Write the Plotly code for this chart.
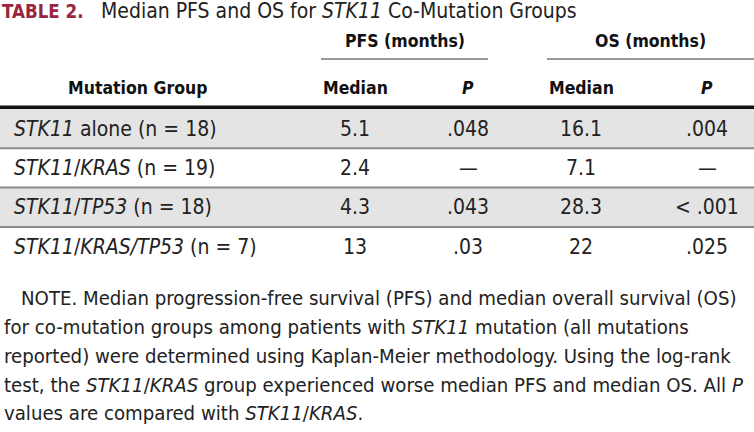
import plotly.graph_objects as go

# ---- data ----
groups = ["<i>STK11</i> alone (n = 18)",
          "<i>STK11</i>/<i>KRAS</i> (n = 19)",
          "<i>STK11</i>/<i>TP53</i> (n = 18)",
          "<i>STK11</i>/<i>KRAS/TP53</i> (n = 7)"]
pfs_median = ["5.1", "2.4", "4.3", "13"]
pfs_p = [".048", "\u2014", ".043", ".03"]
os_median = ["16.1", "7.1", "28.3", "22"]
os_p = [".004", "\u2014", "< .001", ".025"]
col_headers = ["Median", "<i>P</i>", "Median", "<i>P</i>"]
group_headers = ["PFS (months)", "OS (months)"]
title_label = "TABLE 2."
title_text = "Median PFS and OS for <i>STK11</i> Co-Mutation Groups"
note_lines = [
    "NOTE. Median progression-free survival (PFS) and median overall survival (OS)",
    "for co-mutation groups among patients with <i>STK11</i> mutation (all mutations",
    "reported) were determined using Kaplan-Meier methodology. Using the log-rank",
    "test, the <i>STK11</i>/<i>KRAS</i> group experienced worse median PFS and median OS. All <i>P</i>",
    "values are compared with <i>STK11</i>/<i>KRAS</i>.",
]

# ---- layout constants ----
W, H = 754, 432
FONT = "Liberation Sans Narrow, DejaVu Sans Condensed, Arial Narrow, sans-serif"
TXT = "#222222"
MAROON = "#9A2540"
BAND = "#E4E4E4"
SEP = "#8A8A8A"

col_x = [355, 468, 581, 707]
grp_span = [(321, 488), (547, 754)]
row_top = 109
row_h = 39.3

fig = go.Figure()
fig.add_trace(go.Scatter(x=[0, W], y=[0, H], mode="markers",
                         marker=dict(opacity=0), hoverinfo="skip", showlegend=False))

ann = []
shapes = []

# title
ann.append(dict(x=0, y=11, text="<b>" + title_label + "</b>", xanchor="left", yanchor="middle",
                font=dict(family=FONT, size=18.6, color=MAROON)))
ann.append(dict(x=99, y=11, text=title_text, xanchor="left", yanchor="middle",
                font=dict(family=FONT, size=21, color=TXT)))

# group headers with underline
for (x0, x1), g in zip(grp_span, group_headers):
    ann.append(dict(x=(x0 + x1) / 2, y=41, text="<b>" + g + "</b>", xanchor="center", yanchor="middle",
                    font=dict(family=FONT, size=17.5, color="#111111")))
    shapes.append(dict(type="line", x0=x0, x1=x1, y0=59, y1=59,
                       line=dict(color="#777777", width=1.3)))

# column headers
ann.append(dict(x=137, y=88, text="<b>Mutation Group</b>", xanchor="center", yanchor="middle",
                font=dict(family=FONT, size=17.5, color="#111111")))
for cx, h in zip(col_x, col_headers):
    ann.append(dict(x=cx, y=88, text="<b>" + h + "</b>", xanchor="center", yanchor="middle",
                    font=dict(family=FONT, size=17.5, color="#111111")))

# thick rule
shapes.append(dict(type="line", x0=0, x1=W, y0=107.3, y1=107.3, line=dict(color="#111111", width=3.5)))

# rows
for i, g in enumerate(groups):
    y0 = row_top + i * row_h
    y1 = y0 + row_h
    if i % 2 == 0:
        shapes.append(dict(type="rect", x0=0, x1=W, y0=y0, y1=y1, line=dict(width=0),
                           fillcolor=BAND, layer="below"))
    if i < len(groups) - 1:
        shapes.append(dict(type="line", x0=0, x1=W, y0=y1, y1=y1, line=dict(color=SEP, width=2)))
    yc = (y0 + y1) / 2
    ann.append(dict(x=12, y=yc, text=g, xanchor="left", yanchor="middle",
                    font=dict(family=FONT, size=21, color=TXT)))
    for cx, v in zip(col_x, [pfs_median[i], pfs_p[i], os_median[i], os_p[i]]):
        ann.append(dict(x=cx, y=yc, text=v, xanchor="center", yanchor="middle",
                        font=dict(family=FONT, size=21, color=TXT)))

# note
note_y = [298, 327, 356, 384.5, 413]
for j, (ln, ny) in enumerate(zip(note_lines, note_y)):
    ann.append(dict(x=19 if j == 0 else 2, y=ny, text=ln, xanchor="left", yanchor="middle",
                    font=dict(family=FONT, size=20.2, color=TXT)))

for a in ann:
    a.update(xref="x", yref="y", showarrow=False)

fig.update_layout(
    width=W, height=H, margin=dict(l=0, r=0, t=0, b=0),
    paper_bgcolor="white", plot_bgcolor="white",
    xaxis=dict(range=[0, W], visible=False, fixedrange=True),
    yaxis=dict(range=[H, 0], visible=False, fixedrange=True),
    annotations=ann, shapes=shapes,
)
fig.write_html("out.html", config={"displayModeBar": False},
               post_script="document.body.style.margin='0';document.body.style.padding='0';")
